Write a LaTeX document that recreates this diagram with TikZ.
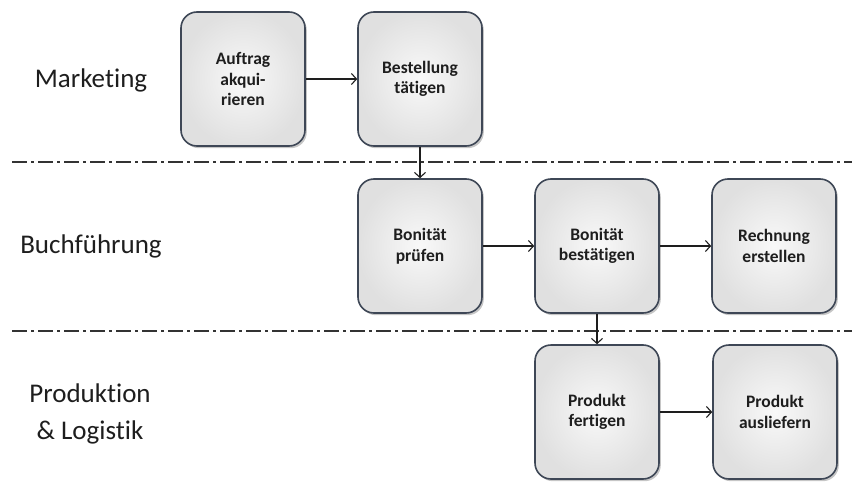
\documentclass[tikz,border=0pt]{standalone}
\usepackage{fontspec}
\setmainfont[Ligatures=NoCommon]{Carlito}
\usetikzlibrary{arrows.meta,shadows}
\definecolor{boxedge}{HTML}{3E4756}
\definecolor{inkdark}{HTML}{1E1E1E}
\begin{document}
\begin{tikzpicture}[x=1pt,y=-1pt,
  task/.style={draw=boxedge, line width=1.6pt, rounded corners=16pt,
    minimum width=124pt, minimum height=134pt,
    inner color=gray!5, outer color=gray!24,
    drop shadow={shadow xshift=1.8pt, shadow yshift=-2.2pt, opacity=0.45},
    font=\bfseries\fontsize{17.5}{20.5}\selectfont, align=center, text=inkdark},
  lane/.style={font=\fontsize{27}{37}\selectfont, align=center, text=inkdark},
  flow/.style={-{Straight Barb[length=5pt,width=11pt]}, line width=1.1pt, inkdark},
  sep/.style={line width=2.5pt, black!80, dash pattern=on 15pt off 4pt on 3pt off 4pt}]
  \useasboundingbox (0,0) rectangle (852,482);

  % swimlane separators
  \draw[sep] (12,162) -- (852,162);
  \draw[sep] (12,331) -- (852,331);

  % lane titles
  \node[lane] (lmkt) at (91,80) {Marketing};
  \node[lane] (lbuch) at (91,246) {Buchführung};
  \node[lane] (lprod) at (90,414) {Produktion\\\& Logistik};

  % activities
  \node[task] (a1) at (243,79) {Auftrag\\akqui-\\rieren};
  \node[task] (a2) at (420,79) {Bestellung\\tätigen};
  \node[task] (b1) at (420,246) {Bonität\\prüfen};
  \node[task] (b2) at (597,246) {Bonität\\bestätigen};
  \node[task] (b3) at (774,246) {Rechnung\\erstellen};
  \node[task] (c1) at (597,412) {Produkt\\fertigen};
  \node[task] (c2) at (775,412) {Produkt\\ausliefern};

  % control flow
  \draw[flow] (a1) -- (a2);
  \draw[flow] (a2) -- (b1);
  \draw[flow] (b1) -- (b2);
  \draw[flow] (b2) -- (b3);
  \draw[flow] (b2) -- (c1);
  \draw[flow] (c1) -- (c2);
\end{tikzpicture}
\end{document}
